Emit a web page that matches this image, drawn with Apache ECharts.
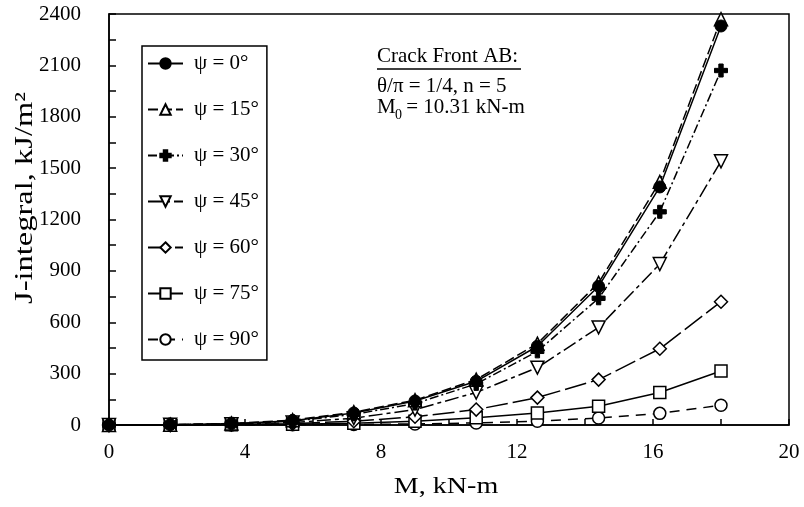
<!DOCTYPE html>
<html>
<head>
<meta charset="utf-8">
<script src="https://cdn.jsdelivr.net/npm/echarts@6/dist/echarts.min.js"></script>
<style>html,body{margin:0;padding:0;background:#fff;}#c{width:804px;height:507px;}</style>
</head>
<body>
<div id="c"></div>
<script>
const xValues = [0, 1.8, 3.6, 5.4, 7.2, 9.0, 10.8, 12.6, 14.4, 16.2, 18.0];
const psi0  = [0, 2, 8, 25, 70, 140, 255, 460, 810, 1390, 2330];
const psi15 = [0, 2, 9, 28, 75, 145, 265, 475, 830, 1420, 2370];
const psi30 = [0, 2, 7, 22, 62, 125, 240, 430, 740, 1245, 2070];
const psi45 = [0, 1, 5, 14, 40, 90, 190, 335, 570, 940, 1540];
const psi60 = [0, 1, 3, 8, 22, 48, 90, 160, 265, 445, 720];
const psi75 = [0, 0.5, 1, 4, 10, 22, 42, 70, 110, 190, 315];
const psi90 = [0, 0.3, 0.5, 1, 3, 6, 12, 22, 41, 68, 115];
const seriesNames = ['ψ = 0°', 'ψ = 15°', 'ψ = 30°', 'ψ = 45°', 'ψ = 60°', 'ψ = 75°', 'ψ = 90°'];
const xTickLabels = ['0', '4', '8', '12', '16', '20'];
const yTickLabels = ['0', '300', '600', '900', '1200', '1500', '1800', '2100', '2400'];
const xTitle = 'M, kN-m';
const yTitle = 'J-integral, kJ/m²';

const FONT = '"Liberation Serif", "Times New Roman", serif';
const chart = echarts.init(document.getElementById('c'), null, {renderer: 'canvas'});

function pairs(vals) { return xValues.map((x, i) => [x, vals[i]]); }

const openStyle = {color: '#fff', borderColor: '#000', borderWidth: 1.5};
const fillStyle = {color: '#000', borderColor: '#000', borderWidth: 1};

const defs = [
  {data: psi0, symbol: 'circle', size: 12, item: fillStyle, dash: 'solid'},
  {data: psi15, symbol: 'triangle', size: 13, item: openStyle, dash: [10, 4]},
  {data: psi30, symbol: 'path://M4,0h4v4h4v4h-4v4h-4v-4h-4v-4h4z', size: 13, item: fillStyle, dash: [9, 3, 2, 3]},
  {data: psi45, symbol: 'path://M0,0L10,0L5,9Z', size: 13, item: openStyle, dash: [14, 4, 4, 4]},
  {data: psi60, symbol: 'diamond', size: 13, item: openStyle, dash: [22, 5]},
  {data: psi75, symbol: 'rect', size: 12, item: openStyle, dash: 'solid'},
  {data: psi90, symbol: 'circle', size: 12, item: openStyle, dash: [10, 7]}
];

const series = defs.map((d, i) => ({
  name: seriesNames[i],
  type: 'line',
  data: pairs(d.data),
  symbol: d.symbol,
  symbolSize: d.size,
  showAllSymbol: true,
  itemStyle: d.item,
  lineStyle: {color: '#000', width: 1.5, type: d.dash},
  z: 10 - i,
  animation: false
}));

chart.setOption({
  animation: false,
  backgroundColor: '#fff',
  textStyle: {fontFamily: FONT, color: '#000'},
  grid: {left: 109, right: 15, top: 14, bottom: 82, show: true, borderColor: '#000', borderWidth: 1.5, backgroundColor: 'transparent'},
  xAxis: {
    type: 'value', min: 0, max: 20, interval: 2,
    axisLine: {show: true, onZero: false, lineStyle: {color: '#000', width: 1.5}},
    axisTick: {show: true, inside: true, length: 6, lineStyle: {color: '#000', width: 1.5}},
    axisLabel: {fontFamily: FONT, fontSize: 21, color: '#000', margin: 17,
      formatter: v => xTickLabels.indexOf(String(v)) >= 0 ? String(v) : ''},
    splitLine: {show: false}
  },
  yAxis: {
    type: 'value', min: 0, max: 2400, interval: 150,
    axisLine: {show: true, onZero: false, lineStyle: {color: '#000', width: 1.5}},
    axisTick: {show: true, inside: true, length: 7, lineStyle: {color: '#000', width: 1.5}},
    axisLabel: {fontFamily: FONT, fontSize: 21, color: '#000', margin: 28,
      formatter: v => yTickLabels.indexOf(String(v)) >= 0 ? String(v) : ''},
    splitLine: {show: false}
  },
  legend: {
    orient: 'vertical', left: 142, top: 46,
    data: seriesNames,
    itemWidth: 35, itemHeight: 13, itemGap: 25,
    padding: [7, 8, 10, 5],
    borderColor: '#000', borderWidth: 1.5, backgroundColor: '#fff',
    textStyle: {fontFamily: FONT, fontSize: 21, color: '#000', lineHeight: 20, padding: [0, 0, 0, 6]},
    selectedMode: false
  },
  graphic: [
    {type: 'text', x: 446, y: 487, scaleX: 1.22, style: {text: xTitle, font: '23px ' + FONT, fill: '#000', align: 'center', verticalAlign: 'middle'}},
    {type: 'text', x: 25, y: 198, rotation: Math.PI / 2, scaleX: 1.3, style: {text: yTitle, font: '25px ' + FONT, fill: '#000', align: 'center', verticalAlign: 'middle'}},
    {type: 'text', left: 377, top: 46, style: {text: 'Crack Front AB:', font: '21px ' + FONT, fill: '#000'}},
    {type: 'line', shape: {x1: 377, y1: 69, x2: 521, y2: 69}, style: {stroke: '#000', lineWidth: 1.3}},
    {type: 'text', left: 377, top: 76, style: {text: 'θ/π = 1/4, n = 5', font: '21px ' + FONT, fill: '#000'}},
    {type: 'text', left: 377, top: 97, style: {text: 'M', font: '21px ' + FONT, fill: '#000'}},
    {type: 'text', left: 395, top: 108, style: {text: '0', font: '14px ' + FONT, fill: '#000'}},
    {type: 'text', left: 401, top: 97, style: {text: ' = 10.31 kN-m', font: '21px ' + FONT, fill: '#000'}}
  ],
  series: series
});
</script>
</body>
</html>
